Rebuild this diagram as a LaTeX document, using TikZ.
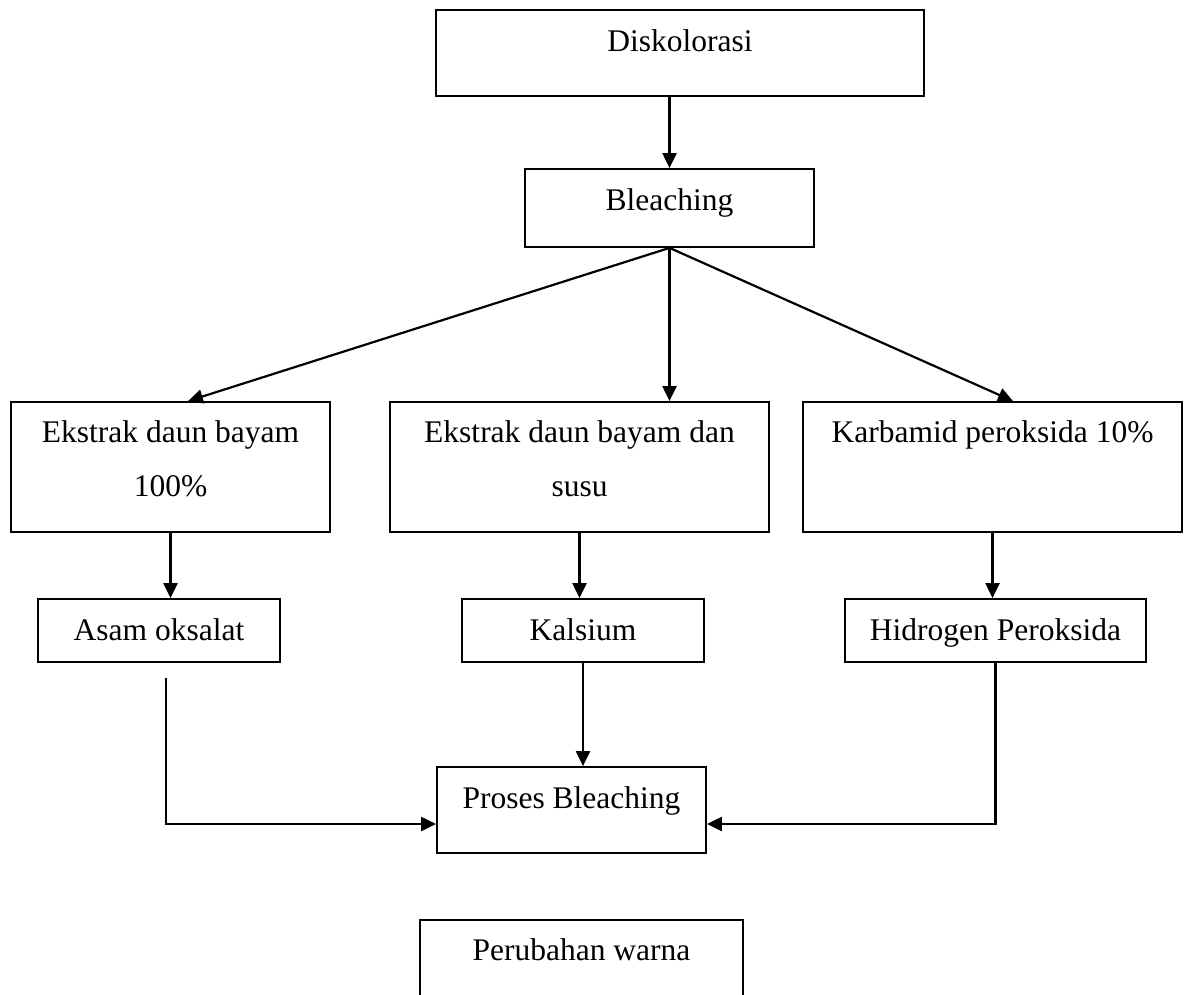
\documentclass[tikz,border=0pt]{standalone}
\usepackage{fontspec}
\setmainfont{Liberation Serif}
\usetikzlibrary{arrows.meta}
\newcommand{\isikotak}[4]{\parbox[c][#2][t]{#1}{\centering\rule{0pt}{#3}#4}}

\begin{document}
\begin{tikzpicture}[x=0.5pt,y=-0.5pt,
  kotak/.style={draw,line width=0.9pt,inner sep=0pt,font=\fontsize{15.75}{27}\selectfont},
  panah/.style={line width=1.1pt,-{Triangle[length=7.5pt,width=7pt]}}]
\useasboundingbox (0,0) rectangle (1186,994);
\clip (0,0) rectangle (1186,994);
\fill[white] (0,0) rectangle (1186,994);

\node[kotak] (disk) at (680,53) {\isikotak{244pt}{43pt}{21pt}{Diskolorasi}};
\node[kotak] (bleach) at (669.5,208) {\isikotak{144.5pt}{39pt}{21pt}{Bleaching}};

\node[kotak] (ek1) at (170.5,467) {\isikotak{159.5pt}{65pt}{20pt}{Ekstrak daun bayam\\100\%}};
\node[kotak] (ek2) at (579.5,467) {\isikotak{189.5pt}{65pt}{20pt}{Ekstrak daun bayam dan\\susu}};
\node[kotak] (karb) at (992.5,467) {\isikotak{189.5pt}{65pt}{20pt}{Karbamid peroksida 10\%}};

\node[kotak] (asam) at (159,630.5) {\isikotak{121pt}{31.5pt}{20.5pt}{Asam oksalat}};
\node[kotak] (kal) at (583,630.5) {\isikotak{121pt}{31.5pt}{20.5pt}{Kalsium}};
\node[kotak] (hid) at (995.5,630.5) {\isikotak{150.5pt}{31.5pt}{20.5pt}{Hidrogen Peroksida}};

\node[kotak] (proses) at (571.5,810) {\isikotak{134.5pt}{43pt}{20.5pt}{Proses Bleaching}};
\node[kotak] (ubah) at (581.5,963) {\isikotak{161.5pt}{43pt}{20pt}{Perubahan warna}};

% alur utama
\draw[panah] (bleach.north |- disk.south) -- (bleach.north);
\draw[panah] (bleach.south) -- ([xshift=8.75pt]ek1.north);
\draw[panah] (bleach.south) -- (bleach.south |- ek2.north);
\draw[panah] (bleach.south) -- ([xshift=10.25pt]karb.north);

\draw[panah] (ek1.south) -- (ek1.south |- asam.north);
\draw[panah] (ek2.south) -- (ek2.south |- kal.north);
\draw[panah] (karb.south) -- (karb.south |- hid.north);

% menuju proses bleaching
\draw[panah] ([xshift=3.5pt,yshift=-7.5pt]asam.south) |- ([yshift=-7pt]proses.west);
\draw[panah] (kal.south) -- (kal.south |- proses.north);
\draw[panah] (hid.south) |- ([yshift=-7pt]proses.east);

\end{tikzpicture}
\end{document}
